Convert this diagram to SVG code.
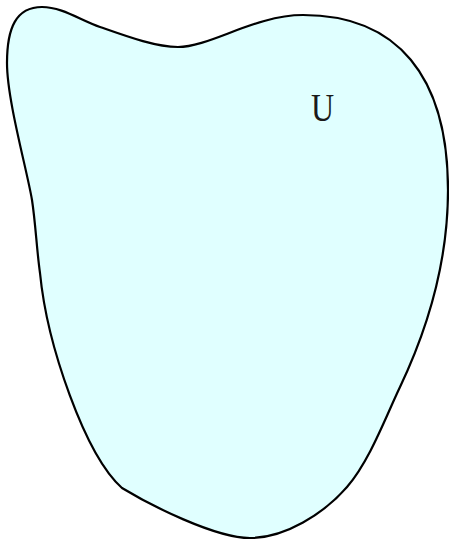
<svg xmlns="http://www.w3.org/2000/svg" width="449" height="541" viewBox="0 0 449 541">
  <style>
    .region { fill: #e0ffff; stroke: #000000; stroke-width: 2.2; stroke-linejoin: round; }
    .label { font-family: "Liberation Serif", "DejaVu Serif", serif; font-size: 40px; fill: #1a1a1a; text-anchor: middle; }
  </style>
  <rect width="449" height="541" fill="#ffffff"/>
  <g id="region-U">
    <path class="region" d="M42,7 C62,7 80,20 100,27 C125,35.75 155,47 178,47 C210,47 255,15 303,15 C397,15 448,76 448,190 C448,260 428,328 400,387 C385,418.5 369.75,460.4 347,487 C324,513.6 285,538 250,538 C215,538 150,505 122,488 C85,455 47,345 40,273 C36.5,248 35.75,224.75 32,200 C27,170 7,100 7,63 C7,28 16,7 42,7 Z"/>
    <text class="label" transform="translate(322.5,121) scale(0.8,1)">U</text>
  </g>
  <g id="connectors"></g>
</svg>
